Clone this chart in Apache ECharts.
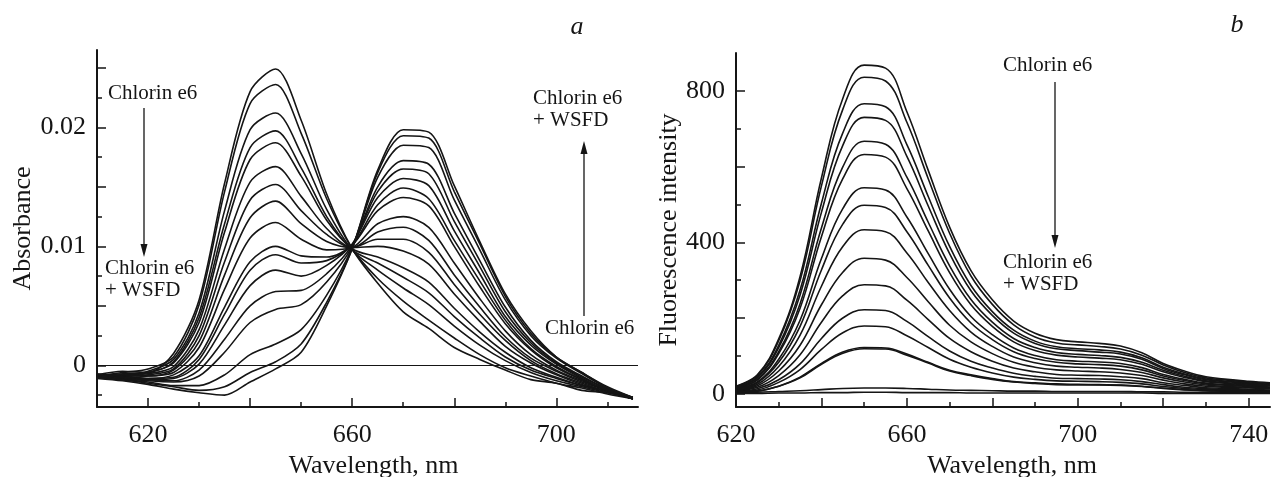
<!DOCTYPE html>
<html>
<head>
<meta charset="utf-8">
<script src="https://cdn.jsdelivr.net/npm/echarts@6/dist/echarts.min.js"></script>
<style>
  html, body { margin: 0; padding: 0; background: #fff; }
  #chart { width: 1279px; height: 477px; }
</style>
</head>
<body>
<div id="chart"></div>
<script>
// ---- panel a: absorbance, Chlorin e6 titrated with WSFD ----
var wavelengthA = [610, 615, 620, 625, 630, 635, 640, 645, 650, 655, 660, 665, 670, 675, 680, 685, 690, 695, 700, 705, 710, 715];
var abs01 = [-0.0008, -0.0005, -0.0006, 0.0010, 0.0055, 0.0153, 0.0230, 0.0249, 0.0206, 0.0144, 0.0098, 0.0069, 0.0045, 0.0031, 0.0015, 0.0005, -0.0004, -0.0012, -0.0015, -0.0021, -0.0023, -0.0028];
var abs02 = [-0.0009, -0.0006, -0.0003, 0.0007, 0.0051, 0.0146, 0.0220, 0.0236, 0.0195, 0.0140, 0.0098, 0.0073, 0.0054, 0.0038, 0.0023, 0.0009, -0.0002, -0.0009, -0.0015, -0.0019, -0.0024, -0.0028];
var abs03 = [-0.0007, -0.0009, -0.0005, 0.0005, 0.0044, 0.0130, 0.0198, 0.0212, 0.0178, 0.0131, 0.0097, 0.0080, 0.0065, 0.0051, 0.0033, 0.0017, 0.0004, -0.0006, -0.0013, -0.0018, -0.0023, -0.0027];
var abs04 = [-0.0009, -0.0007, -0.0006, 0.0003, 0.0040, 0.0119, 0.0183, 0.0197, 0.0166, 0.0125, 0.0097, 0.0086, 0.0074, 0.0061, 0.0041, 0.0023, 0.0007, -0.0004, -0.0011, -0.0017, -0.0022, -0.0028];
var abs05 = [-0.0008, -0.0009, -0.0006, 0.0002, 0.0036, 0.0112, 0.0173, 0.0187, 0.0159, 0.0122, 0.0098, 0.0091, 0.0082, 0.0070, 0.0048, 0.0028, 0.0011, -0.0002, -0.0010, -0.0017, -0.0022, -0.0027];
var abs06 = [-0.0009, -0.0008, -0.0007, -0.0001, 0.0030, 0.0098, 0.0154, 0.0167, 0.0142, 0.0115, 0.0099, 0.0100, 0.0096, 0.0085, 0.0060, 0.0037, 0.0016, 0.0002, -0.0008, -0.0016, -0.0022, -0.0028];
var abs07 = [-0.0008, -0.0009, -0.0008, -0.0003, 0.0025, 0.0087, 0.0139, 0.0152, 0.0130, 0.0110, 0.0099, 0.0106, 0.0106, 0.0095, 0.0068, 0.0043, 0.0021, 0.0004, -0.0007, -0.0015, -0.0022, -0.0028];
var abs08 = [-0.0010, -0.0008, -0.0009, -0.0004, 0.0020, 0.0076, 0.0124, 0.0138, 0.0119, 0.0104, 0.0099, 0.0112, 0.0116, 0.0105, 0.0076, 0.0049, 0.0024, 0.0006, -0.0005, -0.0014, -0.0021, -0.0028];
var abs09 = [-0.0009, -0.0011, -0.0009, -0.0006, 0.0015, 0.0064, 0.0107, 0.0120, 0.0106, 0.0097, 0.0099, 0.0119, 0.0125, 0.0116, 0.0086, 0.0056, 0.0029, 0.0009, -0.0004, -0.0013, -0.0021, -0.0027];
var abs10 = [-0.0010, -0.0009, -0.0011, -0.0008, 0.0008, 0.0049, 0.0087, 0.0100, 0.0092, 0.0091, 0.0101, 0.0130, 0.0141, 0.0134, 0.0100, 0.0066, 0.0035, 0.0013, -0.0002, -0.0012, -0.0021, -0.0028];
var abs11 = [-0.0009, -0.0011, -0.0011, -0.0010, 0.0005, 0.0043, 0.0080, 0.0093, 0.0086, 0.0088, 0.0101, 0.0135, 0.0149, 0.0140, 0.0105, 0.0071, 0.0038, 0.0014, -0.0001, -0.0012, -0.0021, -0.0028];
var abs12 = [-0.0010, -0.0010, -0.0012, -0.0011, 0.0001, 0.0034, 0.0067, 0.0080, 0.0075, 0.0084, 0.0102, 0.0141, 0.0157, 0.0151, 0.0113, 0.0077, 0.0041, 0.0017, 0.0001, -0.0011, -0.0021, -0.0028];
var abs13 = [-0.0010, -0.0012, -0.0012, -0.0013, -0.0004, 0.0022, 0.0050, 0.0062, 0.0063, 0.0077, 0.0101, 0.0146, 0.0165, 0.0161, 0.0121, 0.0083, 0.0045, 0.0019, 0.0002, -0.0010, -0.0020, -0.0028];
var abs14 = [-0.0009, -0.0011, -0.0013, -0.0014, -0.0009, 0.0011, 0.0036, 0.0047, 0.0051, 0.0070, 0.0100, 0.0150, 0.0172, 0.0169, 0.0128, 0.0088, 0.0049, 0.0021, 0.0003, -0.0009, -0.0020, -0.0028];
var abs15 = [-0.0010, -0.0012, -0.0014, -0.0017, -0.0017, -0.0008, 0.0009, 0.0018, 0.0030, 0.0059, 0.0099, 0.0158, 0.0185, 0.0183, 0.0139, 0.0097, 0.0055, 0.0025, 0.0006, -0.0007, -0.0019, -0.0027];
var abs16 = [-0.0010, -0.0012, -0.0015, -0.0018, -0.0021, -0.0018, -0.0006, 0.0003, 0.0018, 0.0053, 0.0098, 0.0162, 0.0193, 0.0191, 0.0146, 0.0102, 0.0058, 0.0027, 0.0007, -0.0006, -0.0018, -0.0027];
var abs17 = [-0.0011, -0.0013, -0.0016, -0.0020, -0.0023, -0.0025, -0.0014, -0.0003, 0.0011, 0.0050, 0.0098, 0.0164, 0.0198, 0.0196, 0.0151, 0.0104, 0.0060, 0.0029, 0.0007, -0.0006, -0.0019, -0.0027];
var absorbanceCurves = [abs01, abs02, abs03, abs04, abs05, abs06, abs07, abs08, abs09, abs10, abs11, abs12, abs13, abs14, abs15, abs16, abs17];

// ---- panel b: fluorescence intensity ----
var wavelengthB = [620, 625, 630, 635, 640, 645, 650, 655, 660, 665, 670, 675, 680, 685, 690, 695, 700, 705, 710, 715, 720, 725, 730, 735, 740, 745];
var fl01 = [20, 50, 145, 310, 570, 780, 868, 860, 745, 590, 440, 325, 248, 192, 160, 143, 137, 133, 126, 108, 80, 60, 45, 38, 33, 29];
var fl02 = [19, 48, 140, 299, 549, 751, 836, 826, 717, 568, 424, 311, 236, 182, 150, 134, 129, 125, 118, 102, 76, 56, 42, 36, 31, 27];
var fl03 = [18, 44, 128, 274, 503, 689, 766, 758, 658, 521, 389, 286, 217, 168, 139, 124, 119, 116, 110, 95, 70, 52, 39, 33, 29, 25];
var fl04 = [17, 42, 122, 261, 479, 656, 730, 722, 627, 496, 370, 272, 207, 160, 133, 119, 114, 110, 105, 91, 67, 50, 37, 32, 27, 24];
var fl05 = [15, 38, 111, 238, 438, 599, 667, 659, 572, 453, 338, 249, 189, 146, 122, 109, 104, 101, 96, 83, 62, 46, 34, 29, 25, 22];
var fl06 = [15, 36, 106, 226, 415, 568, 632, 625, 542, 430, 320, 235, 178, 137, 114, 102, 97, 94, 90, 78, 58, 43, 32, 27, 23, 21];
var fl07 = [13, 31, 91, 194, 357, 489, 544, 538, 467, 370, 276, 204, 156, 121, 101, 90, 86, 84, 80, 69, 51, 38, 28, 24, 21, 18];
var fl08 = [12, 29, 83, 178, 327, 448, 498, 492, 428, 339, 253, 187, 143, 111, 93, 83, 79, 77, 73, 63, 47, 35, 26, 22, 19, 17];
var fl09 = [11, 25, 72, 155, 284, 389, 433, 428, 372, 294, 220, 163, 125, 97, 82, 73, 70, 68, 64, 56, 42, 31, 23, 19, 17, 15];
var fl10 = [9, 21, 60, 128, 235, 321, 358, 353, 307, 243, 181, 137, 106, 83, 70, 63, 60, 58, 55, 48, 36, 26, 20, 17, 15, 13];
var fl11 = [8, 17, 48, 103, 189, 259, 288, 285, 247, 196, 146, 111, 86, 68, 58, 51, 49, 48, 45, 40, 29, 22, 16, 14, 12, 10];
var fl12 = [7, 13, 37, 79, 146, 200, 222, 220, 191, 151, 113, 86, 68, 54, 46, 41, 40, 39, 37, 32, 24, 17, 13, 11, 10, 8];
var fl13 = [6, 10, 30, 64, 117, 161, 179, 177, 153, 122, 91, 70, 55, 44, 38, 34, 33, 32, 30, 26, 19, 14, 11, 9, 8, 7];
var fl14 = [5, 7, 20, 44, 80, 110, 122, 121, 105, 83, 62, 50, 40, 32, 29, 26, 25, 24, 23, 20, 15, 11, 8, 7, 6, 5];
var fl15 = [5, 7, 20, 42, 78, 107, 119, 118, 102, 81, 60, 48, 38, 31, 27, 24, 23, 23, 22, 19, 14, 10, 8, 6, 6, 5];
var fl16 = [3, 4, 6, 8, 11, 14, 15, 15, 14, 12, 10, 9, 8, 7, 7, 6, 6, 6, 6, 5, 5, 4, 4, 3, 3, 3];
var fl17 = [1, 1, 2, 2, 3, 3, 4, 4, 3, 3, 3, 2, 2, 2, 2, 2, 2, 2, 2, 2, 1, 1, 1, 1, 1, 1];
var fluorescenceCurves = [fl01, fl02, fl03, fl04, fl05, fl06, fl07, fl08, fl09, fl10, fl11, fl12, fl13, fl14, fl15, fl16, fl17];

// tick / label positions
var ticksAX = [620, 640, 660, 680, 700];
var labelsAX = [620, 660, 700];
var ticksAY = [0, 0.005, 0.01, 0.015, 0.02, 0.025];
var labelsAY = [0, 0.01, 0.02];
var ticksBX = [620, 640, 660, 680, 700, 720, 740];
var labelsBX = [620, 660, 700, 740];
var ticksBY = [0, 200, 400, 600, 800];
var labelsBY = [0, 400, 800];

var ink = '#151515';
var serif = '"Liberation Serif", "Times New Roman", serif';

var myChart = echarts.init(document.getElementById('chart'));

function axisCommon(o) {
  var base = {
    type: 'value',
    splitLine: { show: false },
    axisLine: { show: true, onZero: false, lineStyle: { color: ink, width: 2 } },
    axisTick: { show: true, inside: true, length: 9, lineStyle: { color: ink, width: 1.5 } },
    minorTick: { show: true, splitNumber: 2, length: 5, lineStyle: { color: ink, width: 1.5 } },
    axisLabel: { color: ink, fontFamily: serif, fontSize: 26, margin: 11 },
    nameLocation: 'middle',
    nameTextStyle: { color: ink, fontFamily: serif, fontSize: 26 }
  };
  for (var k in o) {
    if (typeof o[k] === 'object' && base[k] && !Array.isArray(o[k])) {
      base[k] = Object.assign({}, base[k], o[k]);
    } else {
      base[k] = o[k];
    }
  }
  return base;
}

function yLabel(v) {
  return v === 0 ? '0' : String(v);
}

var series = [];
absorbanceCurves.forEach(function (ys, i) {
  var s = {
    type: 'line',
    xAxisIndex: 0,
    yAxisIndex: 0,
    data: wavelengthA.map(function (x, k) { return [x, ys[k]]; }),
    symbol: 'none',
    smooth: 0.3,
    lineStyle: { color: ink, width: 1.6 },
    silent: true
  };
  if (i === 0) {
    // zero baseline
    s.markLine = {
      symbol: 'none',
      silent: true,
      label: { show: false },
      lineStyle: { color: ink, width: 1.2, type: 'solid' },
      data: [{ yAxis: 0 }]
    };
  }
  series.push(s);
});
fluorescenceCurves.forEach(function (ys) {
  series.push({
    type: 'line',
    xAxisIndex: 1,
    yAxisIndex: 1,
    data: wavelengthB.map(function (x, k) { return [x, ys[k]]; }),
    symbol: 'none',
    smooth: 0.4,
    lineStyle: { color: ink, width: 1.6 },
    silent: true
  });
});

function arrow(x, yFrom, yTip) {
  var d = yTip > yFrom ? 1 : -1;
  return [
    { type: 'line', silent: true, shape: { x1: x, y1: yFrom, x2: x, y2: yTip - d * 10 }, style: { stroke: ink, lineWidth: 1.3 } },
    { type: 'polygon', silent: true, shape: { points: [[x - 3.5, yTip - d * 13], [x + 3.5, yTip - d * 13], [x, yTip]] }, style: { fill: ink } }
  ];
}

function note(x, y, text) {
  return {
    type: 'text', silent: true, x: x, y: y,
    style: { text: text, font: '21px ' + serif, fill: ink, align: 'left', verticalAlign: 'top', lineHeight: 22 }
  };
}

var graphics = [].concat(
  [note(108, 82, 'Chlorin e6'), note(105, 257, 'Chlorin e6\n+ WSFD')],
  arrow(144, 108, 257),
  [note(533, 87, 'Chlorin e6\n+ WSFD'), note(545, 317, 'Chlorin e6')],
  arrow(584, 316, 141),
  [note(1003, 54, 'Chlorin e6'), note(1003, 251, 'Chlorin e6\n+ WSFD')],
  arrow(1055, 82, 248),
  [
    { type: 'text', silent: true, x: 577, y: 27, style: { text: 'a', font: 'italic 26px ' + serif, fill: ink, align: 'center', verticalAlign: 'middle' } },
    { type: 'text', silent: true, x: 1237, y: 25, style: { text: 'b', font: 'italic 26px ' + serif, fill: ink, align: 'center', verticalAlign: 'middle' } }
  ]
);

myChart.setOption({
  animation: false,
  backgroundColor: '#fff',
  grid: [
    { left: 97, top: 50, width: 541, height: 357, outerBoundsMode: 'none' },
    { left: 736, top: 53, width: 534, height: 354, outerBoundsMode: 'none' }
  ],
  xAxis: [
    axisCommon({
      gridIndex: 0, min: 610, max: 716, splitNumber: 6,
      axisTick: { customValues: ticksAX },
      axisLabel: { customValues: labelsAX, margin: 15 },
      name: 'Wavelength, nm', nameGap: 46,
      nameTextStyle: { padding: [0, 0, 0, 12] }
    }),
    axisCommon({
      gridIndex: 1, min: 620, max: 745, splitNumber: 6,
      axisTick: { customValues: ticksBX },
      axisLabel: { customValues: labelsBX, margin: 15 },
      name: 'Wavelength, nm', nameGap: 46,
      nameTextStyle: { padding: [0, 0, 0, 18] }
    })
  ],
  yAxis: [
    axisCommon({
      gridIndex: 0, min: -0.0035, max: 0.0265, splitNumber: 6,
      axisTick: { customValues: ticksAY },
      axisLabel: { customValues: labelsAY, formatter: yLabel },
      name: 'Absorbance', nameGap: 58
    }),
    axisCommon({
      gridIndex: 1, min: -35, max: 900, splitNumber: 5,
      axisTick: { customValues: ticksBY },
      axisLabel: { customValues: labelsBY },
      name: 'Fluorescence intensity', nameGap: 53
    })
  ],
  series: series,
  graphic: graphics
});
</script>
</body>
</html>
